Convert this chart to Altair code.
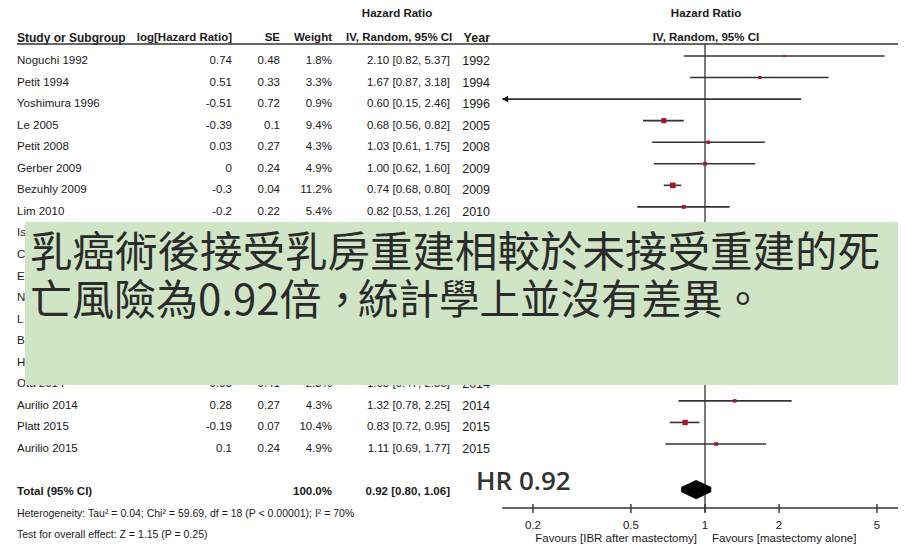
import altair as alt
import pandas as pd

# ---------------- data ----------------
studies = ["Noguchi 1992", "Petit 1994", "Yoshimura 1996", "Le 2005", "Petit 2008",
           "Gerber 2009", "Bezuhly 2009", "Lim 2010",
           "Is", "C", "E", "N", "L", "B", "H",          # rows hidden behind the note box
           "Ota 2014", "Aurilio 2014", "Platt 2015", "Aurilio 2015"]
log_hr = [0.74, 0.51, -0.51, -0.39, 0.03, 0, -0.3, -0.2,
          None, None, None, None, None, None, None,
          0.05, 0.28, -0.19, 0.1]
se = [0.48, 0.33, 0.72, 0.1, 0.27, 0.24, 0.04, 0.22,
      None, None, None, None, None, None, None,
      0.41, 0.27, 0.07, 0.24]
weight = [1.8, 3.3, 0.9, 9.4, 4.3, 4.9, 11.2, 5.4,
          None, None, None, None, None, None, None,
          2.3, 4.3, 10.4, 4.9]
hr = [2.10, 1.67, 0.60, 0.68, 1.03, 1.00, 0.74, 0.82,
      None, None, None, None, None, None, None,
      1.05, 1.32, 0.83, 1.11]
hr_lo = [0.82, 0.87, 0.15, 0.56, 0.61, 0.62, 0.68, 0.53,
         None, None, None, None, None, None, None,
         0.47, 0.78, 0.72, 0.69]
hr_hi = [5.37, 3.18, 2.46, 0.82, 1.75, 1.60, 0.80, 1.26,
         None, None, None, None, None, None, None,
         2.35, 2.25, 0.95, 1.77]
years = [1992, 1994, 1996, 2005, 2008, 2009, 2009, 2010,
         None, None, None, None, None, None, None,
         2014, 2014, 2015, 2015]

total_hr, total_lo, total_hi = 0.92, 0.80, 1.06
total_weight = "100.0%"
total_label = "Total (95% CI)"
heterogeneity = "Heterogeneity: Tau\u00b2 = 0.04; Chi\u00b2 = 59.69, df = 18 (P < 0.00001); I\u00b2 = 70%"
overall = "Test for overall effect: Z = 1.15 (P = 0.25)"

tick_values = [0.2, 0.5, 1, 2, 5]
tick_labels = ["0.2", "0.5", "1", "2", "5"]
axis_lo, axis_hi = 0.15, 6.6

overlay_line1 = "乳癌術後接受乳房重建相較於未接受重建的死"
overlay_line2 = ["亡風險為0.92倍，", "統計學上並沒有差異。"]
hr_note = "HR 0.92"

# ---------------- tables ----------------
def fmt(v, f):
    return "" if v is None else f(v)

rows = pd.DataFrame({
    "row": list(range(len(studies))),
    "study": studies,
    "loglab": [fmt(v, lambda x: f"{x:g}") for v in log_hr],
    "selab": [fmt(v, lambda x: f"{x:g}") for v in se],
    "wlab": [fmt(v, lambda x: f"{x:.1f}%") for v in weight],
    "cilab": ["" if h is None else f"{h:.2f} [{l:.2f}, {u:.2f}]" for h, l, u in zip(hr, hr_lo, hr_hi)],
    "yearlab": [fmt(v, lambda x: str(int(x))) for v in years],
})
forest = pd.DataFrame({
    "row": list(range(len(studies))), "hr": hr, "lo": hr_lo, "hi": hr_hi, "w": weight
}).dropna()
forest["lo_c"] = forest["lo"].clip(lower=axis_lo)
arrows = forest[forest["lo"] <= axis_lo]

total_row = len(studies) + 1
footer = pd.DataFrame({"row": [total_row + 1, total_row + 2],
                       "label": [heterogeneity, overall]})
total_df = pd.DataFrame({"row": [total_row], "lab": [total_label], "w": [total_weight],
                         "ci": [f"{total_hr:.2f} [{total_lo:.2f}, {total_hi:.2f}]"]})
dh = 0.33
diamond = pd.DataFrame({"x": [total_lo, total_hr, total_hi],
                        "y": [total_row, total_row - dh, total_row],
                        "y2": [total_row, total_row + dh, total_row]})
ticks = pd.DataFrame({"t": tick_values, "lab": tick_labels})
axis_df = pd.DataFrame({"a": [axis_lo], "b": [axis_hi]})
ref_df = pd.DataFrame({"d": [1.0]})
one = pd.DataFrame({"k": [0]})

# ---------------- scales & style ----------------
FONT = "Liberation Sans, Arial, sans-serif"
CJK = "Noto Sans CJK TC, Noto Sans CJK JP, sans-serif"
FS = 11.5
TXT = "#1a1a1a"
LINE = "#333333"
xs = alt.Scale(type="log", domain=[0.2, 5], range=[525, 869], nice=False)
ys = alt.Scale(domain=[0, 18], range=[53, 441], nice=False, zero=False)
Y = alt.Y("row:Q", scale=ys, axis=None)


def txt(text, x, y, align="left", size=FS, weight="normal", font=FONT, color=TXT):
    return alt.Chart(one).mark_text(align=align, baseline="middle", font=font,
                                    fontSize=size, fontWeight=weight, color=color).encode(
        x=alt.value(x), y=alt.value(y), text=alt.value(text))


def col(df, field, x, align="right", weight="normal", size=FS):
    return alt.Chart(df).mark_text(align=align, baseline="middle", font=FONT,
                                   fontSize=size, fontWeight=weight, color=TXT).encode(
        x=alt.value(x), y=Y, text=f"{field}:N")


layers = []
# headers
layers += [
    txt("Hazard Ratio", 389, 6, "center", weight="bold"),
    txt("Hazard Ratio", 698, 6, "center", weight="bold"),
    txt("Study or Subgroup", 9, 30, "left", weight="bold", size=12),
    txt("log[Hazard Ratio]", 224, 30, "right", weight="bold"),
    txt("SE", 272, 30, "right", weight="bold"),
    txt("Weight", 324, 30, "right", weight="bold"),
    txt("IV, Random, 95% CI", 338, 30, "left", weight="bold"),
    txt("Year", 482, 30, "right", weight="bold", size=12.5),
    txt("IV, Random, 95% CI", 698, 30, "center", weight="bold"),
]
layers.append(alt.Chart(one).mark_rule(color=LINE, strokeWidth=1.3).encode(
    x=alt.value(9), x2=alt.value(890), y=alt.value(36)))

# table columns
layers += [col(rows, "study", 9, "left"), col(rows, "loglab", 224), col(rows, "selab", 272),
           col(rows, "wlab", 324), col(rows, "cilab", 442), col(rows, "yearlab", 482, size=12.5)]

# footer
layers += [col(total_df, "lab", 9, "left", "bold"), col(total_df, "w", 324, "right", "bold"),
           col(total_df, "ci", 442, "right", "bold"), col(footer, "label", 9, "left", size=10.5)]

# forest plot
layers.append(alt.Chart(ref_df).mark_rule(color=LINE, strokeWidth=1.3).encode(
    x=alt.X("d:Q", scale=xs, axis=None), y=alt.value(36), y2=alt.value(504)))
layers.append(alt.Chart(forest).mark_rule(color=LINE, strokeWidth=1.6, yOffset=-5).encode(
    x=alt.X("lo_c:Q", scale=xs, axis=None), x2="hi:Q", y=Y))
layers.append(alt.Chart(arrows).mark_point(shape="triangle-left", filled=True, size=45,
                                           color="#111", opacity=1, yOffset=-5, xOffset=3).encode(
    x=alt.X("lo_c:Q", scale=xs, axis=None), y=Y))
layers.append(alt.Chart(forest).mark_square(color="#a3192b", opacity=1, yOffset=-5).encode(
    x=alt.X("hr:Q", scale=xs, axis=None), y=Y,
    size=alt.Size("w:Q", scale=alt.Scale(domain=[0, 12], range=[0, 34]), legend=None)))
layers.append(alt.Chart(diamond).mark_area(color="#000", opacity=1, yOffset=-5).encode(
    x=alt.X("x:Q", scale=xs, axis=None),
    y=alt.Y("y:Q", scale=ys, axis=None), y2="y2:Q"))

# x axis
layers.append(alt.Chart(axis_df).mark_rule(color=LINE, strokeWidth=1.6).encode(
    x=alt.X("a:Q", scale=xs, axis=None), x2="b:Q", y=alt.value(500)))
layers.append(alt.Chart(ticks).mark_rule(color=LINE, strokeWidth=1.4).encode(
    x=alt.X("t:Q", scale=xs, axis=None), y=alt.value(496), y2=alt.value(505)))
layers.append(alt.Chart(ticks).mark_text(align="center", baseline="middle", font=FONT,
                                         fontSize=FS, color=TXT).encode(
    x=alt.X("t:Q", scale=xs, axis=None), y=alt.value(518), text="lab:N"))
layers += [
    txt("Favours [IBR after mastectomy]", 689, 531, "right", size=11.5),
    txt("Favours [mastectomy alone]", 704, 531, "left", size=11.5),
]

# annotation
layers.append(txt(hr_note, 468, 474, "left", size=26, weight=600,
                  font="Open Sans, Noto Sans, sans-serif", color="#333333"))
layers.append(alt.Chart(one).mark_rect(color="#cfe5c5", opacity=1).encode(
    x=alt.value(17), x2=alt.value(890), y=alt.value(214), y2=alt.value(377)))
layers.append(txt(overlay_line1, 22, 246, "left", size=42.5, font=CJK, color="#2b2b2b"))
layers.append(txt(overlay_line2[0], 22, 294, "left", size=42, font=CJK, color="#2b2b2b"))
layers.append(txt(overlay_line2[1], 350, 294, "left", size=40.5, font=CJK, color="#2b2b2b"))

chart = alt.layer(*layers).properties(
    width=890, height=500,
    autosize=alt.AutoSizeParams(type="none"),
    padding={"left": 0, "top": 0, "right": 0, "bottom": 40},
).configure_view(stroke=None)

chart.save("out.html", embed_options={"renderer": "svg", "actions": False})
